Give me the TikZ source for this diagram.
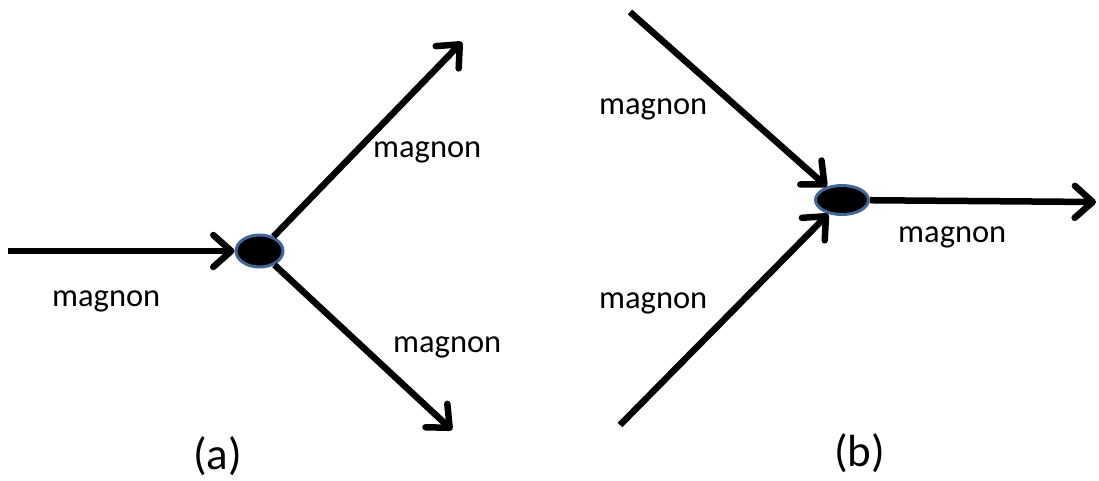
\documentclass[tikz,border=0pt]{standalone}
\usepackage{fontspec}
\setmainfont{Carlito}
\usetikzlibrary{arrows.meta,shapes.geometric}
\definecolor{rim}{HTML}{41679A}
\tikzset{
  conn/.style={line width=6.5pt,-{Straight Barb[round,length=18pt,width=32pt]}},
  vertex/.style={ellipse,fill=black,draw=rim,line width=3pt,inner sep=0pt},
  lab/.style={font=\fontsize{32.5}{36}\selectfont,inner sep=0pt,anchor=base west},
  captxt/.style={font=\fontsize{45}{50}\selectfont,inner sep=0pt,anchor=base west}
}
\begin{document}
\begin{tikzpicture}[x=1pt,y=-1pt]
\useasboundingbox (0,0) rectangle (1099,480);
% (a)
\node[vertex,minimum width=47pt,minimum height=32pt] (va) at (259.5,251) {};
\coordinate (ain) at (8,251);
\coordinate (aup) at (462,42);
\coordinate (adn) at (452,430);
\draw[conn] (ain) -- (va);
\draw[conn] (va) -- (aup);
\draw[conn] (va) -- (adn);
\node[lab] (la1) at (52,306) {magnon};
\node[lab] (la2) at (373,157) {magnon};
\node[lab] (la3) at (393,352) {magnon};
\node[captxt] (ca) at (193,469) {(a)};
% (b)
\node[vertex,minimum width=53pt,minimum height=29pt] (vb) at (842,200) {};
\coordinate (bup) at (630,12);
\coordinate (bdn) at (620,425);
\coordinate (bout) at (1096,202);
\draw[conn] (bup) -- (vb);
\draw[conn] (bdn) -- (vb);
\draw[conn] (vb) -- (bout);
\node[lab] (lb1) at (599,114) {magnon};
\node[lab] (lb2) at (599,308) {magnon};
\node[lab] (lb3) at (898,242) {magnon};
\node[captxt] (cb) at (834,466) {(b)};
\end{tikzpicture}
\end{document}
